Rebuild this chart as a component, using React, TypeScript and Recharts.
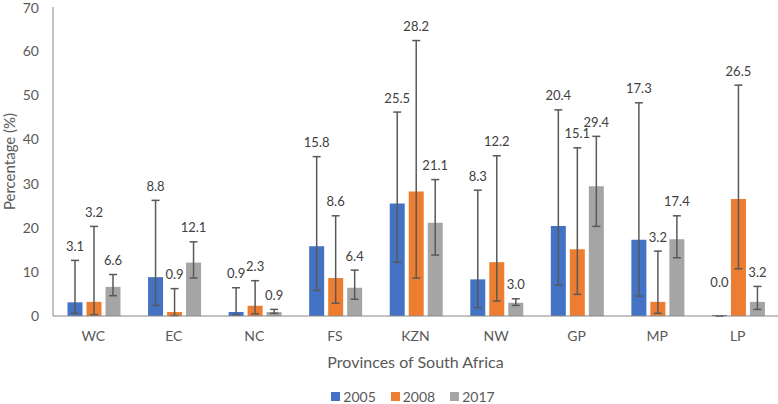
import React from "react";
import {
  BarChart,
  Bar,
  XAxis,
  YAxis,
  ErrorBar,
  LabelList,
  Legend,
  Label,
} from "recharts";

const provinces = ["WC", "EC", "NC", "FS", "KZN", "NW", "GP", "MP", "LP"];
const years = ["2005", "2008", "2017"];
const colors = ["#4472C4", "#ED7D31", "#A5A5A5"];

const pct2005 = [3.1, 8.8, 0.9, 15.8, 25.5, 8.3, 20.4, 17.3, 0.0];
const pct2008 = [3.2, 0.9, 2.3, 8.6, 28.2, 12.2, 15.1, 3.2, 26.5];
const pct2017 = [6.6, 12.1, 0.9, 6.4, 21.1, 3.0, 29.4, 17.4, 3.2];

// confidence interval bounds
const low2005 = [0.6, 2.4, 0.3, 5.8, 12.2, 1.9, 7.0, 4.5, 0.0];
const high2005 = [12.6, 26.2, 6.4, 36.1, 46.2, 28.5, 46.7, 48.3, 0.0];
const low2008 = [0.3, 0.1, 0.5, 2.9, 8.6, 3.4, 4.9, 0.6, 10.7];
const high2008 = [20.3, 6.2, 8.0, 22.7, 62.4, 36.3, 38.1, 14.7, 52.3];
const low2017 = [4.6, 8.6, 0.6, 3.8, 13.8, 2.4, 20.3, 13.2, 1.5];
const high2017 = [9.4, 16.8, 1.5, 10.4, 30.9, 3.9, 40.7, 22.7, 6.7];

const yTicks = [0, 10, 20, 30, 40, 50, 60, 70];

const values = [pct2005, pct2008, pct2017];
const lows = [low2005, low2008, low2017];
const highs = [high2005, high2008, high2017];

const data = provinces.map((name, i) => {
  const row: any = { name };
  years.forEach((yr, s) => {
    const v = values[s][i];
    row["y" + yr] = v;
    row["err" + yr] = [
      Math.max(0, v - lows[s][i]),
      Math.max(0, highs[s][i] - v),
    ];
  });
  return row;
});

// label sits just above the upper whisker
const makeLabel = (vals: number[], his: number[]) => (props: any) => {
  const vb = props.viewBox ?? props;
  const x = Number(vb.x);
  const y = Number(vb.y);
  const w = Number(vb.width);
  const h = Math.abs(Number(vb.height));
  const i = props.index;
  const v = vals[i];
  const base = y + h;
  const k = v > 0 ? h / v : 0;
  const topY = v > 0 ? base - his[i] * k : base - 20;
  return (
    <text
      x={x + w / 2}
      y={topY - 9.5}
      textAnchor="middle"
      fill="#404040"
      fontSize={13}
    >
      {v.toFixed(1)}
    </text>
  );
};

const LegendBox = () => (
  <div
    style={{
      height: 28,
      boxSizing: "border-box",
      paddingTop: 13,
      paddingLeft: 48,
      display: "flex",
      justifyContent: "center",
      alignItems: "center",
      lineHeight: "14px",
      fontSize: 14,
      color: "#595959",
    }}
  >
    {years.map((yr, s) => (
      <div
        key={yr}
        style={{ display: "flex", alignItems: "center", marginRight: s < 2 ? 15 : 0 }}
      >
        <span
          style={{
            display: "inline-block",
            width: 9,
            height: 9,
            background: colors[s],
            marginRight: 3,
          }}
        />
        <span>{yr}</span>
      </div>
    ))}
  </div>
);

export default function App() {
  return (
    <div
      style={{
        position: "absolute",
        left: 0,
        top: 0,
        width: 778,
        height: 404,
        fontFamily: "Lato",
        background: "#fff",
      }}
    >
      <BarChart
        width={778}
        height={404}
        data={data}
        margin={{ top: 7, right: 0, bottom: 0, left: 0 }}
        barGap={4}
        barCategoryGap="18%"
      >
        <XAxis
          dataKey="name"
          height={60}
          axisLine={{ stroke: "#868686" }}
          tickLine={false}
          tickSize={0}
          tickMargin={15}
          tick={{ fill: "#595959", fontSize: 14 }}
        >
          <Label
            value="Provinces of South Africa"
            position="insideBottom"
            offset={8}
            fill="#595959"
            fontSize={16}
          />
        </XAxis>
        <YAxis
          width={53}
          domain={[0, 70]}
          ticks={yTicks}
          axisLine={{ stroke: "#868686" }}
          tickLine={false}
          tickSize={0}
          tickMargin={14}
          tick={{ fill: "#595959", fontSize: 14 }}
        >
          <Label
            value="Percentage (%)"
            angle={-90}
            position="insideLeft"
            offset={10}
            fill="#595959"
            fontSize={15}
            style={{ textAnchor: "middle" }}
          />
        </YAxis>
        <Legend verticalAlign="bottom" content={<LegendBox />} />
        {years.map((yr, s) => (
          <Bar
            key={yr}
            dataKey={"y" + yr}
            name={yr}
            fill={colors[s]}
            minPointSize={1}
            isAnimationActive={false}
          >
            <ErrorBar
              dataKey={"err" + yr}
              width={4}
              stroke="#595959"
              strokeWidth={1.5}
            />
            <LabelList
              dataKey={"y" + yr}
              content={makeLabel(values[s], highs[s])}
            />
          </Bar>
        ))}
      </BarChart>
    </div>
  );
}
